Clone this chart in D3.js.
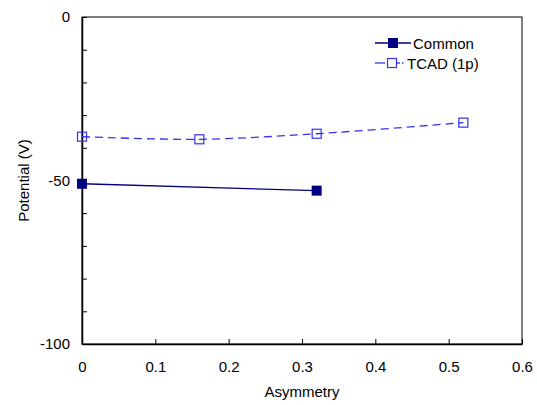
<!DOCTYPE html>
<html>
<head>
<meta charset="utf-8">
<script src="https://cdn.jsdelivr.net/npm/d3@7"></script>
<style>
  body { margin: 0; background: #fff; }
  text { font-family: "Liberation Sans", Arial, sans-serif; }
</style>
</head>
<body>
<svg id="chart"></svg>
<script>
// data
var commonX = [0, 0.32];
var commonY = [-51, -53.1];
var tcadX = [0, 0.16, 0.32, 0.52];
var tcadY = [-36.6, -37.4, -35.7, -32.3];
var xTicks = [0, 0.1, 0.2, 0.3, 0.4, 0.5, 0.6];
var yTicks = [0, -50, -100];
var yMinor = d3.range(-100, 1, 10);

var width = 537, height = 405;
var margin = {top: 17, right: 15, bottom: 61, left: 82};
var w = width - margin.left - margin.right;
var h = height - margin.top - margin.bottom;
var fontSize = "15px";

var svg = d3.select("#chart")
    .attr("width", width)
    .attr("height", height);

var x = d3.scaleLinear().domain([0, 0.6]).range([0, w]);
var y = d3.scaleLinear().domain([-100, 0]).range([h, 0]);

var g = svg.append("g")
    .attr("transform", "translate(" + margin.left + "," + margin.top + ")");

// plot box
g.append("rect")
    .attr("width", w)
    .attr("height", h)
    .attr("fill", "none")
    .attr("stroke", "#000")
    .attr("stroke-width", 1);

// x axis, ticks pointing inward
var xAxis = g.append("g")
    .attr("transform", "translate(0," + h + ")")
    .call(d3.axisBottom(x).tickValues(xTicks).tickSizeInner(-5).tickSizeOuter(0)
      .tickPadding(17).tickFormat(d3.format("")));
xAxis.select(".domain").attr("stroke-width", 1.5);

// y axis with inward minor ticks
var yAxis = g.append("g")
    .call(d3.axisLeft(y).tickValues(yMinor).tickSizeInner(-5).tickSizeOuter(0)
      .tickPadding(12).tickFormat(function(d) { return yTicks.indexOf(d) >= 0 ? d : ""; }));
yAxis.select(".domain").attr("stroke-width", 1.5);

svg.selectAll(".tick text")
    .style("font-size", fontSize)
    .attr("fill", "#000");

// axis titles
svg.append("text")
    .attr("x", margin.left + w / 2)
    .attr("y", 397)
    .attr("text-anchor", "middle")
    .style("font-size", fontSize)
    .text("Asymmetry");

svg.append("text")
    .attr("transform", "translate(29," + (margin.top + h / 2) + ") rotate(-90)")
    .attr("text-anchor", "middle")
    .style("font-size", fontSize)
    .text("Potential (V)");

var navy = "#000080", blue = "#3333ee";

// TCAD smoothed dashed line
var tcad = tcadX.map(function(d, i) { return [d, tcadY[i]]; });
var line = d3.line().x(function(d) { return x(d[0]); }).y(function(d) { return y(d[1]); });
g.append("path")
    .datum(tcad)
    .attr("d", line.curve(d3.curveCatmullRom))
    .attr("fill", "none")
    .attr("stroke", blue)
    .attr("stroke-width", 1.3)
    .attr("stroke-dasharray", "8,5");

g.selectAll(".tcad-pt")
    .data(tcad)
    .enter().append("rect")
    .attr("x", function(d) { return x(d[0]) - 4.5; })
    .attr("y", function(d) { return y(d[1]) - 4.5; })
    .attr("width", 9)
    .attr("height", 9)
    .attr("fill", "none")
    .attr("stroke", blue)
    .attr("stroke-width", 1.2);

// Common solid line
var common = commonX.map(function(d, i) { return [d, commonY[i]]; });
var line2 = d3.line().x(function(d) { return x(d[0]); }).y(function(d) { return y(d[1]); });
g.append("path")
    .datum(common)
    .attr("d", line2)
    .attr("fill", "none")
    .attr("stroke", navy)
    .attr("stroke-width", 1.3);

g.selectAll(".common-pt")
    .data(common)
    .enter().append("rect")
    .attr("x", function(d) { return x(d[0]) - 5; })
    .attr("y", function(d) { return y(d[1]) - 5; })
    .attr("width", 10)
    .attr("height", 10)
    .attr("fill", navy);

// legend
var key = svg.append("g").attr("transform", "translate(375,43)");
key.append("line").attr("x1", 0).attr("x2", 36).attr("y1", 0).attr("y2", 0)
    .attr("stroke", navy).attr("stroke-width", 1.3);
key.append("rect").attr("x", 13).attr("y", -5).attr("width", 10).attr("height", 10).attr("fill", navy);
key.append("text").attr("x", 38).attr("y", 5.5).style("font-size", fontSize).text("Common");

key.append("line").attr("x1", 0).attr("x2", 10).attr("y1", 20).attr("y2", 20)
    .attr("stroke", blue).attr("stroke-width", 1.3);
key.append("line").attr("x1", 21).attr("x2", 25).attr("y1", 20).attr("y2", 20)
    .attr("stroke", blue).attr("stroke-width", 1.3);
key.append("line").attr("x1", 27).attr("x2", 28.5).attr("y1", 20).attr("y2", 20)
    .attr("stroke", blue).attr("stroke-width", 1.3);
key.append("rect").attr("x", 12.5).attr("y", 15.5).attr("width", 9).attr("height", 9)
    .attr("fill", "none").attr("stroke", blue).attr("stroke-width", 1.2);
key.append("text").attr("x", 32).attr("y", 25.5).style("font-size", fontSize).text("TCAD (1p)");
</script>
</body>
</html>
